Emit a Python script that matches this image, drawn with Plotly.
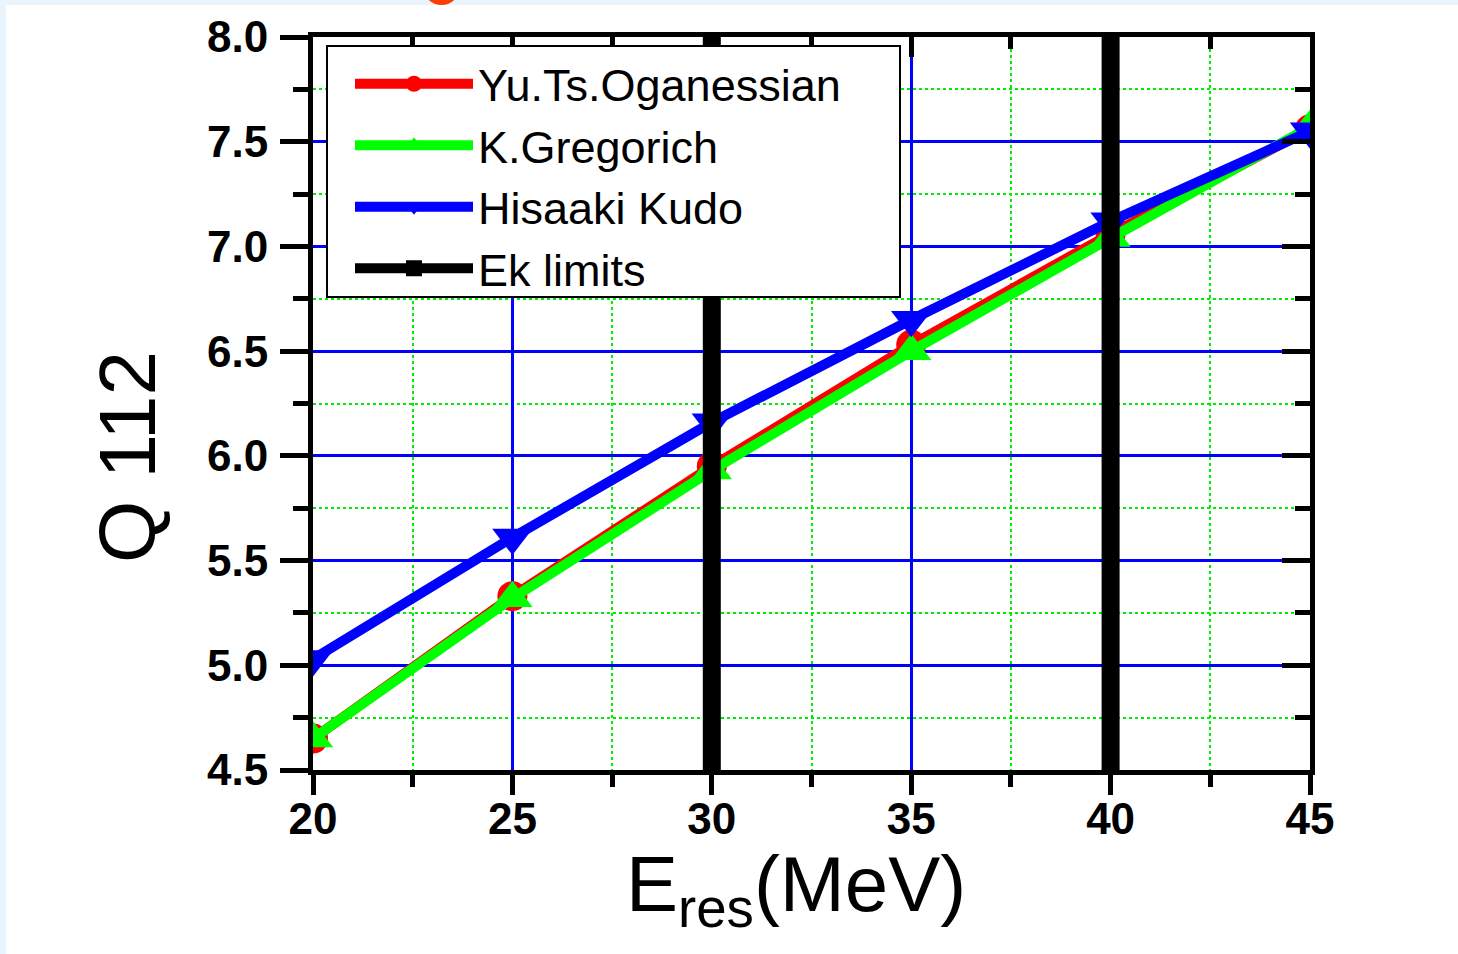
import plotly.graph_objects as go

energy = [20, 25, 30, 35, 40, 45]
oganessian = [4.65, 5.33, 5.95, 6.53, 7.06, 7.56]
gregorich = [4.65, 5.32, 5.93, 6.50, 7.04, 7.57]
kudo = [5.03, 5.61, 6.16, 6.65, 7.12, 7.55]
ek_x = [30, 30, None, 40, 40]
ek_y = [4.5, 8.0, None, 4.5, 8.0]
x_ticks = [20, 25, 30, 35, 40, 45]
y_ticks = [4.5, 5.0, 5.5, 6.0, 6.5, 7.0, 7.5, 8.0]

W, H = 1458, 954
L, R, T, B = 313, 1310, 37, 770

def px(x):
    return (x - L) / (R - L)

def py(y):
    return (B - y) / (B - T)

fig = go.Figure()
fig.add_trace(go.Scatter(x=energy, y=oganessian, name="Yu.Ts.Oganessian", mode="lines+markers",
                         line=dict(color="#ff0000", width=10),
                         marker=dict(symbol="circle", size=30, color="#ff0000")))
fig.add_trace(go.Scatter(x=energy, y=gregorich, name="K.Gregorich", mode="lines+markers",
                         line=dict(color="#00ff00", width=10),
                         marker=dict(symbol="triangle-up", size=35, color="#00ff00")))
fig.add_trace(go.Scatter(x=energy, y=kudo, name="Hisaaki Kudo", mode="lines+markers",
                         line=dict(color="#0000ff", width=10),
                         marker=dict(symbol="triangle-down", size=35, color="#0000ff")))
fig.add_trace(go.Scatter(x=ek_x, y=ek_y, name="Ek limits", mode="lines+markers",
                         line=dict(color="#000000", width=18),
                         marker=dict(symbol="square", size=16, color="#000000")))
# mirror axes (inside ticks on top / right)
fig.add_trace(go.Scatter(x=[20], y=[4.5], xaxis="x2", yaxis="y2", showlegend=False,
                         hoverinfo="skip", mode="markers", marker=dict(opacity=0)))

tickfont = dict(family="Liberation Sans, Arial", size=44, color="black", weight="bold")
fig.update_layout(
    width=W, height=H,
    margin=dict(l=L, r=W - R, t=T, b=H - B),
    paper_bgcolor="#eaf4fd",
    plot_bgcolor="white",
    font=dict(family="Liberation Sans, Arial", color="black"),
    xaxis=dict(range=[20, 45], tickvals=x_ticks, ticktext=[str(v) for v in x_ticks],
               showline=True, linecolor="black", linewidth=5,
               ticks="outside", ticklen=20, tickwidth=5, tickcolor="black",
               tickfont=tickfont, ticklabelstandoff=-14,
               showgrid=True, gridcolor="#0000ff", gridwidth=2.5, zeroline=False,
               minor=dict(dtick=2.5, tick0=20, ticks="outside", ticklen=12, tickwidth=5, tickcolor="black",
                          showgrid=True, gridcolor="#00ee00", gridwidth=2, griddash="dot")),
    yaxis=dict(range=[4.5, 8.0], tickvals=y_ticks, ticktext=["%.1f" % v for v in y_ticks],
               showline=True, linecolor="black", linewidth=5,
               ticks="outside", ticklen=28, tickwidth=5, tickcolor="black",
               tickfont=tickfont, ticklabelstandoff=3,
               showgrid=True, gridcolor="#0000ff", gridwidth=2.5, zeroline=False,
               minor=dict(dtick=0.25, tick0=4.5, ticks="outside", ticklen=15, tickwidth=5, tickcolor="black",
                          showgrid=True, gridcolor="#00ee00", gridwidth=2, griddash="dot")),
    xaxis2=dict(overlaying="x", side="top", matches="x", range=[20, 45], tickvals=x_ticks,
                showticklabels=False, showline=True, linecolor="black", linewidth=5,
                ticks="inside", ticklen=20, tickwidth=5, tickcolor="black", showgrid=False, zeroline=False,
                minor=dict(dtick=2.5, tick0=20, ticks="inside", ticklen=12, tickwidth=5, tickcolor="black",
                           showgrid=False)),
    yaxis2=dict(overlaying="y", side="right", matches="y", range=[4.5, 8.0], tickvals=y_ticks,
                showticklabels=False, showline=True, linecolor="black", linewidth=5,
                ticks="inside", ticklen=28, tickwidth=5, tickcolor="black", showgrid=False, zeroline=False,
                minor=dict(dtick=0.25, tick0=4.5, ticks="inside", ticklen=15, tickwidth=5, tickcolor="black",
                           showgrid=False)),
    legend=dict(x=px(350), y=py(48), xanchor="left", yanchor="top",
                bgcolor="rgba(0,0,0,0)", borderwidth=0,
                font=dict(family="Liberation Sans, Arial", size=45, color="black"),
                itemwidth=118, tracegroupgap=0),
    shapes=[
        dict(type="rect", xref="paper", yref="paper", x0=px(6), x1=px(W + 5), y0=py(H + 5), y1=py(5),
             fillcolor="white", line=dict(width=0), layer="below"),
        dict(type="circle", xref="paper", yref="paper", x0=px(423), x1=px(460), y0=py(5), y1=py(-31),
             fillcolor="#ff3d00", line=dict(width=0), layer="above"),
        # legend frame
        dict(type="rect", xref="paper", yref="paper", x0=px(327), x1=px(900), y0=py(297), y1=py(46),
             fillcolor="white", line=dict(color="black", width=2), layer="above"),
    ],
    annotations=[
        dict(text="E<sub>res</sub>(MeV)", xref="paper", yref="paper", x=px(796), y=py(838),
             xanchor="center", yanchor="top", showarrow=False,
             font=dict(size=78, family="Liberation Sans, Arial", color="black")),
        dict(text="Q 112", xref="paper", yref="paper", x=px(127), y=py(457),
             xanchor="center", yanchor="middle", textangle=-90, showarrow=False,
             font=dict(size=80, family="Liberation Sans, Arial", color="black")),
    ],
    showlegend=True,
)

fig.write_html("out.html", config={"displayModeBar": False},
               post_script="document.body.style.margin='0';")
